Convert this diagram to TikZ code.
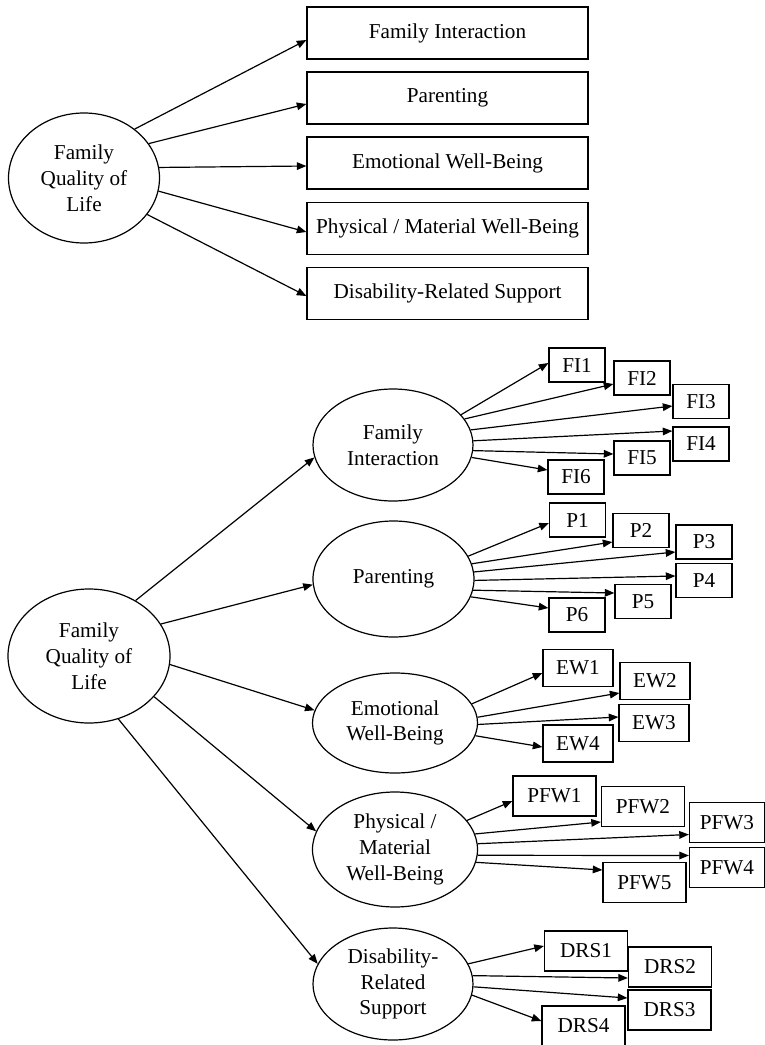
\documentclass[tikz,border=0pt]{standalone}
\usepackage{fontspec}
\setmainfont{Liberation Serif}
\usetikzlibrary{shapes.geometric,arrows.meta}
\begin{document}
\begin{tikzpicture}[x=0.5pt,y=-0.5pt,line width=0.6pt,
    font=\fontsize{10.6}{12.9}\selectfont,
    latent/.style={ellipse,draw,inner sep=0pt,align=center},
    scale box/.style={rectangle,draw,inner sep=0pt,minimum width=140.5pt,minimum height=26pt},
    item/.style={rectangle,draw,inner sep=0pt},
    load/.style={-{Triangle[length=4.8pt,width=3.8pt]}}]
  \useasboundingbox (0,0) rectangle (765,1045);
  % first-order model
  \node[latent,minimum width=75.5pt,minimum height=65pt] (fqa) at (84,178) {Family\\Quality of\\Life};
  \node[scale box] (sfi) at (447.5,33) {Family Interaction};
  \node[scale box] (spa) at (447.5,98) {Parenting};
  \node[scale box] (sew) at (447.5,163) {Emotional Well-Being};
  \node[scale box] (spf) at (447.5,228.5) {Physical / Material Well-Being};
  \node[scale box] (sdr) at (447.5,293.5) {Disability-Related Support};
  \begin{scope}[load]
    \draw (fqa.44) to ([yshift=-3.5pt]sfi.west);
    \draw (fqa.28) to ([yshift=-3pt]spa.west);
    \draw (fqa.8) to ([yshift=-1.5pt]sew.west);
    \draw (fqa.-10) to ([yshift=-1.75pt]spf.west);
    \draw (fqa.-30) to ([yshift=-1.25pt]sdr.west);
  \end{scope}
  % second-order model
  \node[latent,minimum width=81pt,minimum height=67pt] (fqb) at (89,656) {Family\\Quality of\\Life};
  \node[latent,minimum width=80pt,minimum height=56pt] (fi) at (393,445) {Family\\Interaction};
  \node[latent,minimum width=80.5pt,minimum height=58pt] (pa) at (393.5,579) {Parenting};
  \node[latent,minimum width=82.5pt,minimum height=50pt] (ew) at (395,723) {Emotional\\Well-Being};
  \node[latent,minimum width=82.5pt,minimum height=57.5pt] (pf) at (395,849.5) {Physical /\\Material\\Well-Being};
  \node[latent,minimum width=80pt,minimum height=56pt] (dr) at (393,984) {Disability-\\Related\\Support};
  % indicators
  \begin{scope}[every node/.style={item,minimum width=28pt,minimum height=17pt}]
    \node (fi1) at (577,365) {FI1};
    \node (fi2) at (642,378) {FI2};
    \node (fi3) at (701,401.5) {FI3};
    \node (fi4) at (701,444) {FI4};
    \node (fi5) at (642,458) {FI5};
    \node (fi6) at (576,477) {FI6};
    \node (p1) at (577.5,520) {P1};
    \node (p2) at (641,530.5) {P2};
    \node (p3) at (704,542) {P3};
    \node (p4) at (704,580.5) {P4};
    \node (p5) at (643,601.5) {P5};
    \node (p6) at (577,615) {P6};
  \end{scope}
  \begin{scope}[every node/.style={item,minimum width=35pt,minimum height=18.5pt}]
    \node (ew1) at (578,668) {EW1};
    \node (ew2) at (655,681) {EW2};
    \node (ew3) at (654,723) {EW3};
    \node (ew4) at (578,743.5) {EW4};
  \end{scope}
  \begin{scope}[every node/.style={item,minimum width=41.5pt,minimum height=20pt}]
    \node (pf1) at (554.5,796) {PFW1};
    \node (pf2) at (643,806.5) {PFW2};
    \node[minimum width=37.5pt] (pf3) at (727,822.5) {PFW3};
    \node[minimum width=37.5pt] (pf4) at (727,867.5) {PFW4};
    \node (pf5) at (644.5,882.5) {PFW5};
    \node (dr1) at (586,951) {DRS1};
    \node (dr2) at (670,967) {DRS2};
    \node (dr3) at (669.5,1010) {DRS3};
    \node (dr4) at (583.5,1026) {DRS4};
  \end{scope}
  \begin{scope}[load]
    \draw (fqb.50) to (fi.189);
    \draw (fqb.24) to (pa.184);
    \draw (fqb.-6) to (ew.171);
    \draw (fqb.-32) to (pf.167);
    \draw (fqb.-65) to (dr.165);
    \draw (fi.24) to ([yshift=1pt]fi1.west);
    \draw (fi.20) to ([yshift=-3pt]fi2.west);
    \draw (fi.11) to ([yshift=-2.25pt]fi3.west);
    \draw (fi.3) to ([yshift=6.5pt]fi4.west);
    \draw (fi.-4) to ([yshift=2pt]fi5.west);
    \draw (fi.-9) to ([yshift=3.5pt]fi6.west);
    \draw (pa.17) to ([yshift=-1.5pt]p1.west);
    \draw (pa.11) to ([yshift=-5.75pt]p2.west);
    \draw (pa.5) to ([yshift=-5pt]p3.west);
    \draw (pa.-1.5) to ([yshift=2.25pt]p4.west);
    \draw (pa.-8) to ([yshift=4.25pt]p5.west);
    \draw (pa.-13) to ([yshift=3.5pt]p6.west);
    \draw (ew.14) to ([yshift=-2.5pt]ew1.west);
    \draw (ew.4) to ([yshift=-6pt]ew2.west);
    \draw (ew.-1.5) to ([yshift=3pt]ew3.west);
    \draw (ew.-9) to ([yshift=-1.75pt]ew4.west);
    \draw (pf.22) to ([yshift=-2.5pt]pf1.west);
    \draw (pf.11) to ([yshift=-7.75pt]pf2.west);
    \draw (pf.4.5) to ([yshift=-6pt]pf3.west);
    \draw (pf.-4.5) to ([yshift=6pt]pf4.west);
    \draw (pf.-9) to ([yshift=6.25pt]pf5.west);
    \draw (dr.15) to ([yshift=2.5pt]dr1.west);
    \draw (dr.6) to ([yshift=-5.5pt]dr2.west);
    \draw (dr.-2) to ([yshift=6pt]dr3.west);
    \draw (dr.-8) to ([yshift=2.5pt]dr4.west);
  \end{scope}
\end{tikzpicture}
\end{document}
